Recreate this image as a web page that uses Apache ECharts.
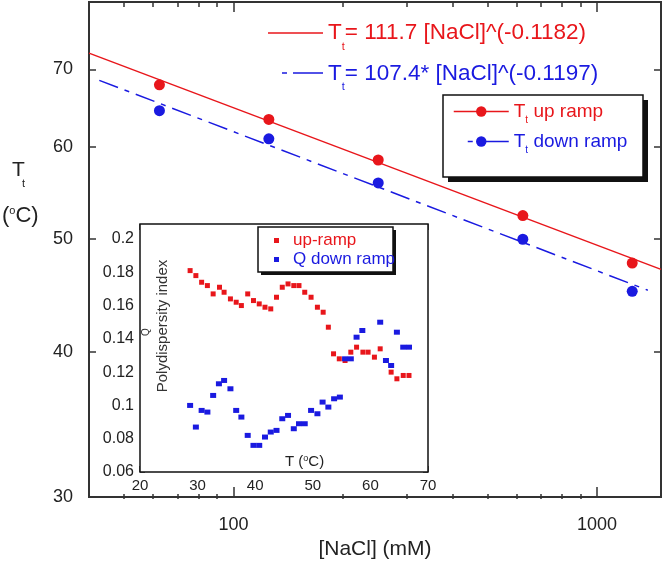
<!DOCTYPE html>
<html>
<head>
<meta charset="utf-8">
<script src="https://cdn.jsdelivr.net/npm/echarts@6/dist/echarts.min.js"></script>
<style>
  html, body { margin: 0; padding: 0; background: #fff; }
  #chart { width: 666px; height: 565px; }
</style>
</head>
<body>
<div id="chart"></div>
<script>
// main plot: transition temperature vs [NaCl]
const nacl = [62.5, 125, 250, 625, 1250]
const ttUp = [67.9, 63.4, 58.5, 52.4, 47.7]
const ttDown = [64.5, 61.0, 55.9, 50.0, 45.1]
// power-law fits (straight on log-log, two ends are enough)
const fitUpConc = [40, 1500]
const fitUp = [72.3, 47.1]
const fitDownConc = [42.7, 1380]
const fitDown = [68.5, 45.2]

const xMajor = [100, 1000]
const xMinor = [50, 60, 70, 80, 90, 200, 300, 400, 500, 600, 700, 800, 900]
const yTicks = [30, 40, 50, 60, 70]

// inset: polydispersity index vs T
const tempUp = [28.7, 29.7, 30.7, 31.7, 32.7, 33.8, 34.6, 35.7, 36.7, 37.6, 38.7, 39.7, 40.7, 41.7, 42.7, 43.7, 44.7, 45.7, 46.7, 47.6, 48.6, 49.7, 50.8, 51.8, 52.7, 53.6, 54.6, 55.6, 56.6, 57.6, 58.7, 59.6, 60.7, 61.7, 63.6, 64.6, 65.7, 66.7]
const pdiUp = [0.181, 0.178, 0.174, 0.172, 0.167, 0.171, 0.168, 0.164, 0.162, 0.160, 0.167, 0.163, 0.161, 0.159, 0.158, 0.165, 0.171, 0.173, 0.172, 0.172, 0.168, 0.165, 0.159, 0.156, 0.147, 0.131, 0.128, 0.127, 0.132, 0.135, 0.132, 0.132, 0.129, 0.134, 0.120, 0.116, 0.118, 0.118]
const tempDown = [28.7, 29.7, 30.7, 31.7, 32.7, 33.7, 34.6, 35.7, 36.7, 37.6, 38.7, 39.7, 40.7, 41.7, 42.7, 43.7, 44.7, 45.7, 46.7, 47.6, 48.6, 49.7, 50.8, 51.7, 52.7, 53.7, 54.7, 55.6, 56.6, 57.6, 58.6, 61.7, 62.7, 63.6, 64.6, 65.7, 66.7]
const pdiDown = [0.100, 0.087, 0.097, 0.096, 0.106, 0.113, 0.115, 0.110, 0.097, 0.093, 0.082, 0.076, 0.076, 0.081, 0.084, 0.085, 0.092, 0.094, 0.086, 0.089, 0.089, 0.097, 0.095, 0.102, 0.099, 0.104, 0.105, 0.128, 0.128, 0.141, 0.145, 0.150, 0.127, 0.124, 0.144, 0.135, 0.135]
const insetYTicks = [0.06, 0.08, 0.1, 0.12, 0.14, 0.16, 0.18, 0.2]

const FONT = 'Liberation Sans, Arial, sans-serif'
const RED = '#e8161b'
const BLUE = '#1a1ae0'
const INK = '#222'

const pairs = (xs, ys) => xs.map((x, i) => [x, ys[i]])
const tickStyle = { color: '#333', width: 1.5 }

// legend frames with the hard offset shadow
const boxWithShadow = (x, y, w, h, off) => [
  { type: 'rect', z: 3, shape: { x: x + off, y: y + off, width: w, height: h }, style: { fill: '#111' } },
  { type: 'rect', z: 3, shape: { x: x, y: y, width: w, height: h }, style: { fill: '#fff', stroke: '#111', lineWidth: 1.5 } }
]

const chart = echarts.init(document.getElementById('chart'))

const option = {
  animation: false,
  backgroundColor: '#fff',
  textStyle: { fontFamily: FONT },
  grid: [
    // main
    { left: 89, top: 2, right: 5, bottom: 66, show: true, borderColor: '#333', borderWidth: 2, backgroundColor: 'transparent' },
    // same rect, only carries the minor ticks
    { left: 89, top: 2, right: 5, bottom: 66, show: false },
    // inset
    { left: 140, top: 224, right: 238, bottom: 93, show: true, borderColor: '#111', borderWidth: 1.5, backgroundColor: '#fff', z: 2 }
  ],
  xAxis: [
    {
      gridIndex: 0, type: 'log', logBase: 10, min: 40, max: 1500, position: 'bottom',
      name: '[NaCl] (mM)', nameLocation: 'middle', nameGap: 40,
      nameTextStyle: { fontSize: 21, color: INK, fontFamily: FONT },
      axisLine: { show: false },
      splitLine: { show: false },
      axisTick: { inside: true, length: 10, customValues: xMajor, lineStyle: tickStyle },
      axisLabel: { customValues: xMajor, margin: 19, fontSize: 18, color: INK, fontFamily: FONT, formatter: v => String(v) }
    },
    {
      gridIndex: 0, type: 'log', logBase: 10, min: 40, max: 1500, position: 'top',
      axisLine: { show: false }, splitLine: { show: false }, axisLabel: { show: false },
      axisTick: { inside: true, length: 10, customValues: xMajor, lineStyle: tickStyle }
    },
    {
      gridIndex: 1, type: 'log', logBase: 10, min: 40, max: 1500, position: 'bottom',
      axisLine: { show: false }, splitLine: { show: false }, axisLabel: { show: false },
      axisTick: { inside: true, length: 5, customValues: xMinor, lineStyle: tickStyle }
    },
    {
      gridIndex: 1, type: 'log', logBase: 10, min: 40, max: 1500, position: 'top',
      axisLine: { show: false }, splitLine: { show: false }, axisLabel: { show: false },
      axisTick: { inside: true, length: 5, customValues: xMinor, lineStyle: tickStyle }
    },
    {
      gridIndex: 2, type: 'value', min: 20, max: 70, interval: 10, position: 'bottom',
      axisLine: { show: false }, splitLine: { show: false },
      axisTick: { inside: true, length: 6, lineStyle: tickStyle },
      axisLabel: { margin: 6, fontSize: 15, color: INK, fontFamily: FONT }
    },
    {
      gridIndex: 2, type: 'value', min: 20, max: 70, interval: 10, position: 'top',
      axisLine: { show: false }, splitLine: { show: false }, axisLabel: { show: false },
      axisTick: { inside: true, length: 6, lineStyle: tickStyle }
    }
  ],
  yAxis: [
    {
      gridIndex: 0, type: 'log', logBase: 10, min: 30, max: 80, position: 'left',
      axisLine: { show: false }, splitLine: { show: false },
      axisTick: { inside: true, length: 7, customValues: yTicks, lineStyle: tickStyle },
      axisLabel: { customValues: yTicks, margin: 16, fontSize: 18, color: INK, fontFamily: FONT, formatter: v => String(v) }
    },
    {
      gridIndex: 0, type: 'log', logBase: 10, min: 30, max: 80, position: 'right',
      axisLine: { show: false }, splitLine: { show: false }, axisLabel: { show: false },
      axisTick: { inside: true, length: 7, customValues: yTicks, lineStyle: tickStyle }
    },
    { gridIndex: 1, type: 'log', logBase: 10, min: 30, max: 80, show: false },
    {
      gridIndex: 2, type: 'value', min: 0.06, max: 0.209, position: 'left',
      axisLine: { show: false }, splitLine: { show: false },
      axisTick: { inside: true, length: 5, customValues: insetYTicks, lineStyle: tickStyle },
      axisLabel: { customValues: insetYTicks, margin: 6, fontSize: 16, color: INK, fontFamily: FONT, formatter: v => String(+v.toFixed(2)) }
    },
    {
      gridIndex: 2, type: 'value', min: 0.06, max: 0.209, position: 'right',
      axisLine: { show: false }, splitLine: { show: false }, axisLabel: { show: false },
      axisTick: { inside: true, length: 5, customValues: insetYTicks, lineStyle: tickStyle }
    }
  ],
  legend: [
    {
      data: [
        { name: 'up ramp', textStyle: { color: RED }, lineStyle: { width: 1.5, color: RED, type: 'solid' } },
        { name: 'down ramp', textStyle: { color: BLUE }, lineStyle: { width: 1.5, color: BLUE, type: [5, 6, 44, 14], dashOffset: 55 } }
      ],
      orient: 'vertical', left: 443, top: 95,
      itemWidth: 55, itemHeight: 13, itemGap: 7,
      padding: [7, 10, 13, 10],
      selectedMode: false,
      z: 5,
      formatter: name => '{a|T}{s|t}{a| ' + name + '}',
      textStyle: {
        fontFamily: FONT, fontSize: 19,
        rich: {
          a: { fontSize: 19, lineHeight: 27, fontFamily: FONT },
          s: { fontSize: 10, lineHeight: 10, verticalAlign: 'bottom', fontFamily: FONT }
        }
      }
    },
    {
      data: [
        { name: 'up-ramp', textStyle: { color: RED } },
        { name: 'Q down ramp', textStyle: { color: BLUE } }
      ],
      orient: 'vertical', left: 258, top: 227,
      icon: 'rect',
      itemWidth: 5, itemHeight: 5, itemGap: 2,
      padding: [5, 6, 7, 16],
      selectedMode: false,
      z: 5,
      textStyle: { fontFamily: FONT, fontSize: 17, lineHeight: 16, padding: [0, 0, 0, 9] }
    }
  ],
  series: [
    {
      name: 'up ramp', type: 'line', xAxisIndex: 0, yAxisIndex: 0,
      data: pairs(fitUpConc, fitUp),
      showSymbol: false, symbol: 'circle', symbolSize: 11,
      color: RED, lineStyle: { color: RED, width: 1.5 }
    },
    {
      name: 'down ramp', type: 'line', xAxisIndex: 0, yAxisIndex: 0,
      data: pairs(fitDownConc, fitDown),
      showSymbol: false, symbol: 'circle', symbolSize: 11,
      color: BLUE, lineStyle: { color: BLUE, width: 1.5, type: [20, 7, 5, 7] }
    },
    {
      name: 'Tt up points', type: 'scatter', xAxisIndex: 0, yAxisIndex: 0,
      data: pairs(nacl, ttUp), symbol: 'circle', symbolSize: 11,
      itemStyle: { color: RED, opacity: 1 }, z: 4
    },
    {
      name: 'Tt down points', type: 'scatter', xAxisIndex: 0, yAxisIndex: 0,
      data: pairs(nacl, ttDown), symbol: 'circle', symbolSize: 11,
      itemStyle: { color: BLUE, opacity: 1 }, z: 4
    },
    {
      name: 'up-ramp', type: 'scatter', xAxisIndex: 4, yAxisIndex: 3,
      data: pairs(tempUp, pdiUp), symbol: 'rect', symbolSize: [5, 5],
      itemStyle: { color: RED, opacity: 1 }, z: 4
    },
    {
      name: 'Q down ramp', type: 'scatter', xAxisIndex: 4, yAxisIndex: 3,
      data: pairs(tempDown, pdiDown), symbol: 'rect', symbolSize: [6, 5],
      itemStyle: { color: BLUE, opacity: 1 }, z: 4
    }
  ],
  graphic: [
    ...boxWithShadow(443, 95, 200, 82, 5),
    ...boxWithShadow(258, 227, 135, 45, 3),
    // y axis title
    { type: 'text', z: 10, style: { text: 'T', x: 12, y: 170, fontSize: 21, fontFamily: FONT, fill: INK, verticalAlign: 'middle', textVerticalAlign: 'middle' } },
    { type: 'text', z: 10, style: { text: 't', x: 22, y: 184, fontSize: 11, fontFamily: FONT, fill: INK, verticalAlign: 'middle', textVerticalAlign: 'middle' } },
    {
      type: 'text', z: 10,
      style: {
        text: '{a|(}{o|o}{a|C)}', x: 2, y: 216, fontFamily: FONT, fill: INK,
        verticalAlign: 'middle', textVerticalAlign: 'middle',
        rich: { a: { fontSize: 22, lineHeight: 22, fontFamily: FONT }, o: { fontSize: 11, lineHeight: 11, verticalAlign: 'top', fontFamily: FONT } }
      }
    },
    // fit equations
    { type: 'line', z: 10, shape: { x1: 268, y1: 33, x2: 323, y2: 33 }, style: { stroke: RED, lineWidth: 1.5 } },
    {
      type: 'text', z: 10,
      style: {
        text: '{a|T}{s|t}{a|= 111.7 [NaCl]^(-0.1182)}', x: 328, y: 33, fill: RED, fontFamily: FONT,
        verticalAlign: 'middle', textVerticalAlign: 'middle',
        rich: { a: { fontSize: 22.5, lineHeight: 38, fontFamily: FONT }, s: { fontSize: 11, lineHeight: 11, verticalAlign: 'bottom', fontFamily: FONT } }
      }
    },
    { type: 'line', z: 10, shape: { x1: 282, y1: 73, x2: 323, y2: 73 }, style: { stroke: BLUE, lineWidth: 1.5, lineDash: [5, 6, 31, 50] } },
    {
      type: 'text', z: 10,
      style: {
        text: '{a|T}{s|t}{a|= 107.4* [NaCl]^(-0.1197)}', x: 328, y: 74, fill: BLUE, fontFamily: FONT,
        verticalAlign: 'middle', textVerticalAlign: 'middle',
        rich: { a: { fontSize: 22.5, lineHeight: 36, fontFamily: FONT }, s: { fontSize: 11, lineHeight: 11, verticalAlign: 'bottom', fontFamily: FONT } }
      }
    },
    // inset axis titles
    {
      type: 'text', z: 10,
      style: {
        text: '{a|T (}{o|o}{a|C)}', x: 285, y: 462, fill: INK, fontFamily: FONT,
        verticalAlign: 'middle', textVerticalAlign: 'middle',
        rich: { a: { fontSize: 15, lineHeight: 16, fontFamily: FONT }, o: { fontSize: 9, lineHeight: 9, verticalAlign: 'top', fontFamily: FONT } }
      }
    },
    {
      type: 'text', z: 10, x: 163, y: 326, rotation: Math.PI / 2,
      style: { text: 'Polydispersity index', fontSize: 15, fontFamily: FONT, fill: '#333', align: 'center', textAlign: 'center', verticalAlign: 'middle', textVerticalAlign: 'middle' }
    },
    {
      type: 'text', z: 10, x: 146, y: 332, rotation: Math.PI / 2,
      style: { text: 'Q', fontSize: 10, fontFamily: FONT, fill: '#333', align: 'center', textAlign: 'center', verticalAlign: 'middle', textVerticalAlign: 'middle' }
    }
  ]
}

chart.setOption(option)
</script>
</body>
</html>
